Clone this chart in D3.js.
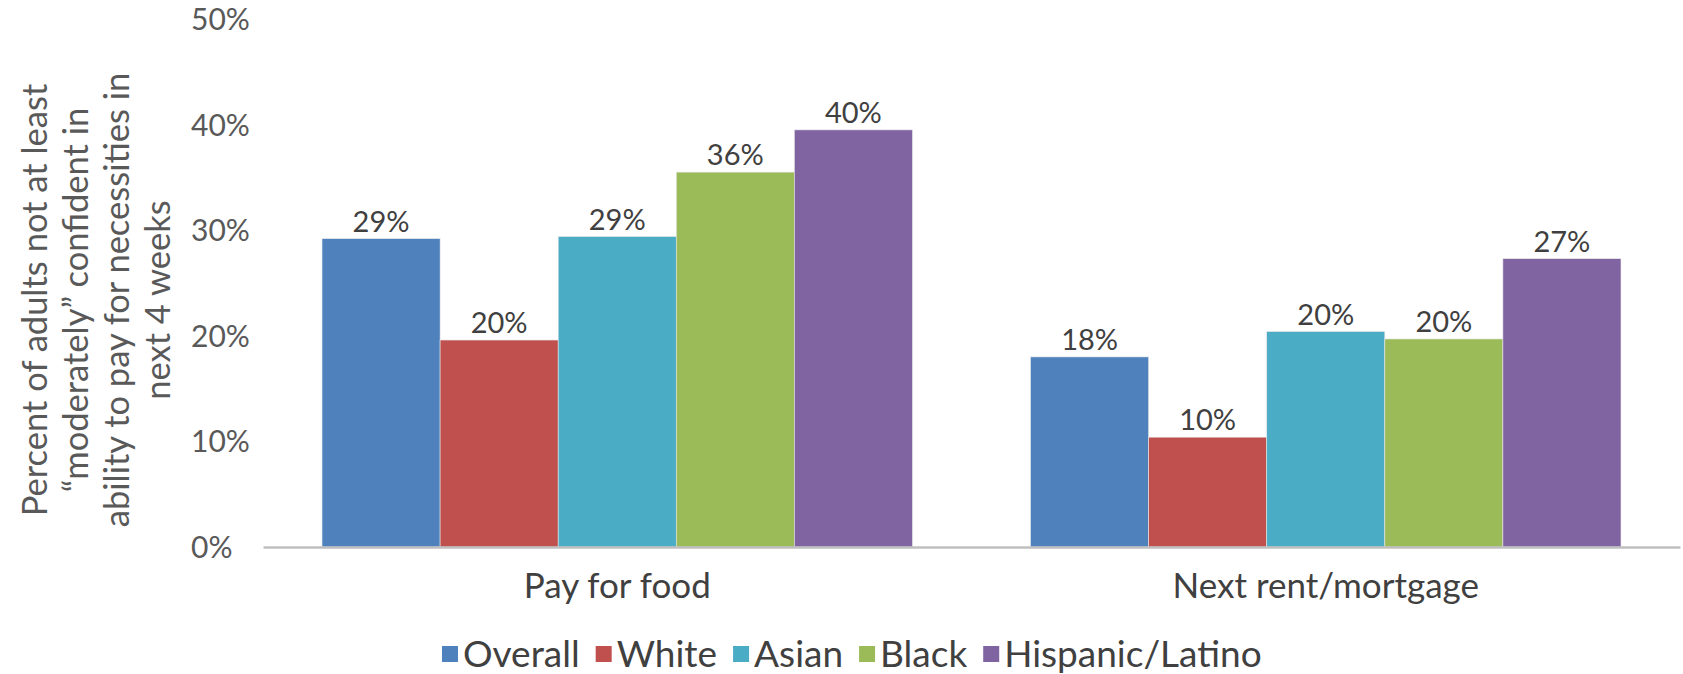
<!DOCTYPE html>
<html lang="en">
<head>
  <meta charset="utf-8">
  <title>Confidence in paying for necessities</title>
  <script src="https://d3js.org/d3.v7.min.js"></script>
  <style>
    body { margin: 0; background: #fff; }
    svg text { font-family: Lato, "Open Sans", sans-serif; }
  </style>
</head>
<body>
<svg width="1683" height="674"></svg>
<script>

// data
var categories = ["Pay for food", "Next rent/mortgage"];
var groups = ["Overall", "White", "Asian", "Black", "Hispanic/Latino"];
var colors = ["#4F81BD", "#C0504D", "#4BACC6", "#9BBB59", "#8064A2"];
var payForFood = [29.2, 19.6, 29.4, 35.5, 39.5];
var nextRent = [18.0, 10.4, 20.4, 19.7, 27.3];
var yTicks = [0, 10, 20, 30, 40, 50];
var titleLines = ["Percent of adults not at least",
                  "\u201Cmoderately\u201D confident in",
                  "ability to pay for necessities in",
                  "next 4 weeks"];

var series = [payForFood, nextRent];

// note: "top" is reserved on window, so use m* names
var svg = d3.select("svg"),
    mLeft = 263, mRight = 1680, mTop = 19, mBottom = 547;

var x0 = d3.scaleBand()
    .domain(categories)
    .range([mLeft, mRight])
    .paddingInner(0.1667)
    .paddingOuter(0.0833);

var x1 = d3.scaleBand()
    .domain(groups)
    .range([0, x0.bandwidth()]);

var y = d3.scaleLinear()
    .domain([0, 50])
    .range([mBottom, mTop]);

// y axis: labels only, no line
var yAxis = svg.append("g")
    .attr("transform", "translate(" + mLeft + ",0)")
    .call(d3.axisLeft(y).tickValues(yTicks).tickSize(0).tickFormat(function(d) { return d + "%"; }));
yAxis.select(".domain").remove();
yAxis.selectAll("text")
    .attr("text-anchor", "start")
    .attr("x", -72)
    .attr("dy", "0.35em")
    .style("font-size", "30px")
    .style("fill", "#595959");

// bars
var cat = svg.selectAll(".cat")
    .data(categories)
    .enter().append("g")
      .attr("class", "cat")
      .attr("transform", function(d) { return "translate(" + x0(d) + ",0)"; });

cat.selectAll("rect")
    .data(function(d, i) { return series[i].map(function(v, j) { return {g: groups[j], v: v, c: colors[j]}; }); })
    .enter().append("rect")
      .attr("x", function(d) { return x1(d.g); })
      .attr("width", x1.bandwidth())
      .attr("y", function(d) { return y(d.v); })
      .attr("height", function(d) { return mBottom - y(d.v); })
      .style("fill", function(d) { return d.c; })
      .style("stroke", "#e8e8e8")
      .style("stroke-width", 0.6);

cat.selectAll(".lbl")
    .data(function(d, i) { return series[i].map(function(v, j) { return {g: groups[j], v: v}; }); })
    .enter().append("text")
      .attr("class", "lbl")
      .attr("x", function(d) { return x1(d.g) + x1.bandwidth() / 2; })
      .attr("y", function(d) { return y(d.v) - 7; })
      .attr("text-anchor", "middle")
      .style("font-size", "29px")
      .style("fill", "#404040")
      .text(function(d) { return Math.round(d.v) + "%"; });

// x axis line + category labels
var xAxis = svg.append("g")
    .attr("transform", "translate(0," + mBottom + ")")
    .call(d3.axisBottom(x0).tickSize(0).tickSizeOuter(0));
xAxis.select(".domain").style("stroke", "#BFBFBF").style("stroke-width", 2.5);
xAxis.selectAll("text")
    .attr("dy", "0")
    .attr("y", 51)
    .style("font-size", "35px")
    .style("fill", "#404040");

// y axis title
var title = svg.append("text")
    .attr("transform", "translate(0,300) rotate(-90)")
    .attr("text-anchor", "middle")
    .style("font-size", "34.5px")
    .style("fill", "#595959");
title.selectAll("tspan")
    .data(titleLines)
    .enter().append("tspan")
      .attr("x", 0)
      .attr("y", function(d, i) { return 47 + i * 41; })
      .text(function(d) { return d; });

// legend
var legend = svg.append("g").attr("transform", "translate(442,654)");
var lx = 0;
groups.forEach(function(g, i) {
  var item = legend.append("g").attr("transform", "translate(" + lx + ",0)");
  item.append("rect")
      .attr("x", 0).attr("y", -8)
      .attr("width", 16).attr("height", 16)
      .style("fill", colors[i]);
  var t = item.append("text")
      .attr("x", 21)
      .attr("dy", "0.35em")
      .style("font-size", "37px")
      .style("fill", "#404040")
      .text(g);
  lx += 21 + t.node().getComputedTextLength() + 16;
});

</script>
</body>
</html>
